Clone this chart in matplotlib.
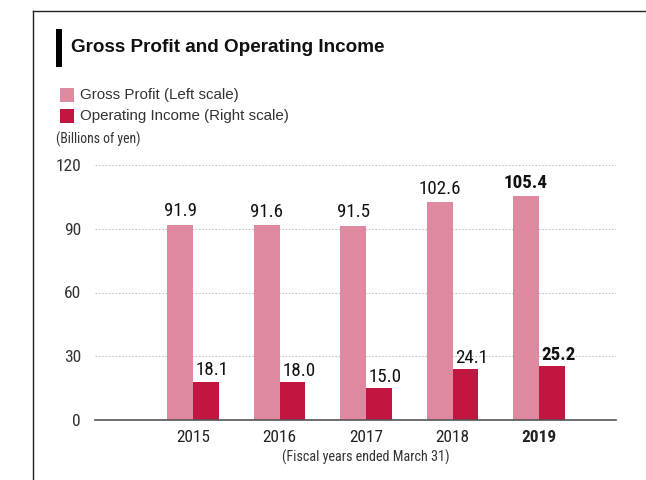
import numpy as np
import matplotlib.pyplot as plt
from matplotlib.patches import Rectangle
from matplotlib.lines import Line2D

years = ['2015', '2016', '2017', '2018', '2019']
gross_profit = [91.9, 91.6, 91.5, 102.6, 105.4]
operating_income = [18.1, 18.0, 15.0, 24.1, 25.2]
yticks = [0, 30, 60, 90, 120]

PINK = '#de899f'
RED = '#c0163f'
COND = ['Roboto Condensed', 'Liberation Sans', 'DejaVu Sans']

plt.rcParams['font.family'] = ['Liberation Sans', 'DejaVu Sans']

fig = plt.figure(figsize=(6.46, 4.8), dpi=100)
W, H = 646, 480

def fx(px):
    return px / W

def fy(py):
    return 1 - py / H

# frame lines top and left
fig.add_artist(Line2D([fx(33), 1], [fy(11), fy(11)], color='#222222', lw=1.0))
fig.add_artist(Line2D([fx(33), fx(33)], [fy(11), 0], color='#222222', lw=1.0))

# title with black bar
fig.add_artist(Rectangle((fx(56), fy(67)), fx(6), (67 - 29) / H, color='black', lw=0))
fig.text(fx(71), fy(48), 'Gross Profit and Operating Income', fontsize=13.6,
         fontweight='bold', va='center', ha='left', color='#111111')

# legend
fig.add_artist(Rectangle((fx(60), fy(102)), fx(14), 14 / H, color=PINK, lw=0))
fig.add_artist(Rectangle((fx(60), fy(123)), fx(14), 14 / H, color=RED, lw=0))
fig.text(fx(80), fy(95), 'Gross Profit (Left scale)', fontsize=10.9,
         va='center', ha='left', color='#333333')
fig.text(fx(80), fy(116), 'Operating Income (Right scale)', fontsize=10.9,
         va='center', ha='left', color='#333333')
fig.text(fx(56), fy(139), '(Billions of yen)', fontsize=9.9, family=COND,
         va='center', ha='left', color='#333333')

ax = fig.add_axes([fx(95), fy(420), fx(616 - 95), (420 - 165) / H])
x = np.arange(len(years))
w = 0.30
ax.bar(x - w / 2, gross_profit, w, color=PINK, zorder=3)
ax.bar(x + w / 2, operating_income, w, color=RED, zorder=3)

ax.set_xlim(-1.133, 4.89)
ax.set_ylim(0, 120)
ax.set_yticks(yticks)
ax.set_yticklabels([str(t) for t in yticks], fontsize=12.6, family=COND, color='#333333')
ax.set_xticks(x)
ax.set_xticklabels(years, fontsize=12.4, family=COND, color='#222222')
ax.get_xticklabels()[-1].set_fontweight('bold')
ax.tick_params(axis='both', length=0)
ax.tick_params(axis='y', pad=10)
ax.tick_params(axis='x', pad=7.5)

for s in ['top', 'right', 'left']:
    ax.spines[s].set_visible(False)
ax.spines['bottom'].set_color('#555555')
ax.spines['bottom'].set_linewidth(1.2)
ax.spines['bottom'].set_zorder(4)

for t in yticks[1:]:
    ax.axhline(t, color='#c4c4c4', lw=0.8, ls=(0, (1.5, 1.5)), zorder=1)

last = len(years) - 1
for i in x:
    wt = 'bold' if i == last else 'normal'
    ax.annotate(f'{gross_profit[i]:.1f}', (i - w / 2, gross_profit[i]),
                xytext=(0, 6), textcoords='offset points', ha='center', va='baseline',
                fontsize=13.7, family=COND, fontweight=wt, color='#111111')
    ax.annotate(f'{operating_income[i]:.1f}', (i + w / 2, operating_income[i]),
                xytext=(4.5, 4.5), textcoords='offset points', ha='center', va='baseline',
                fontsize=13.7, family=COND, fontweight=wt, color='#111111')

ax.text(2, -0.145, '(Fiscal years ended March 31)', transform=ax.get_xaxis_transform(),
        ha='center', va='center', fontsize=10.2, family=COND, color='#333333')

fig.savefig('out.png', dpi=100)
